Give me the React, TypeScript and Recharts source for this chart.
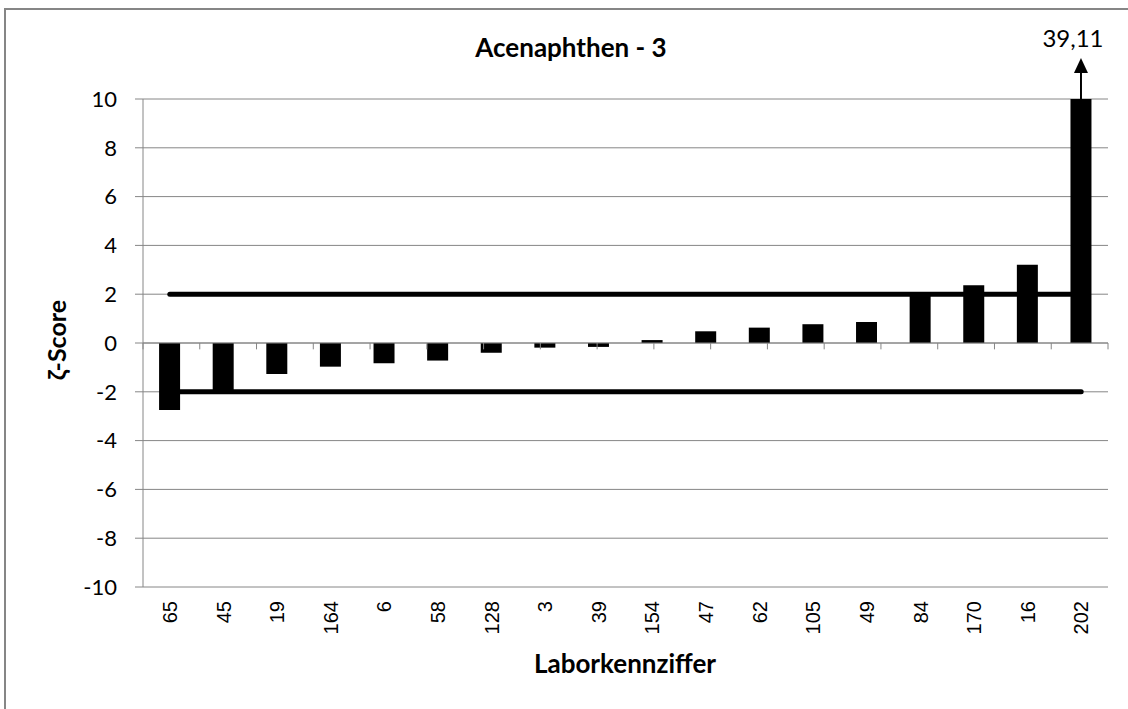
import {
  BarChart,
  Bar,
  Line,
  XAxis,
  YAxis,
  CartesianGrid,
  ReferenceLine,
  LabelList,
} from "recharts";

// Laborkennziffern in Reihenfolge der Darstellung
const LABS = ["65", "45", "19", "164", "6", "58", "128", "3", "39", "154", "47", "62", "105", "49", "84", "170", "16", "202"];
// zeta-Scores je Labor
const SCORES = [-2.75, -1.95, -1.27, -0.97, -0.83, -0.72, -0.4, -0.19, -0.16, 0.12, 0.48, 0.63, 0.77, 0.86, 1.98, 2.37, 3.21, 39.11];
const Y_TICKS = [-10, -8, -6, -4, -2, 0, 2, 4, 6, 8, 10];
const UPPER_LIMIT = 2;
const LOWER_LIMIT = -2;

const Y_MIN = -10;
const Y_MAX = 10;
const GRID = "#868686";

const data = LABS.map((lab, i) => ({
  lab,
  raw: SCORES[i],
  score: Math.max(Y_MIN, Math.min(Y_MAX, SCORES[i])),
  upper: UPPER_LIMIT,
  lower: LOWER_LIMIT,
}));

// Grenzen zwischen den Kategorien (Teilstriche auf der Nulllinie)
const bounds = Array.from({ length: LABS.length + 1 }, (_, i) => i);

const XTick = (props: any) => {
  const { x, y, payload } = props;
  const ty = y + 14;
  return (
    <text
      x={x}
      y={ty}
      transform={`rotate(-90, ${x}, ${ty})`}
      textAnchor="end"
      dy="0.36em"
      fontSize={20}
      fontFamily="'Liberation Sans', Arial, sans-serif"
      fill="#000"
    >
      {payload.value}
    </text>
  );
};

// Pfeil + Wert für Balken, die über die Achse hinausgehen
const OverflowMark = (props: any) => {
  const { x, y, width, value } = props;
  if (value == null || value <= Y_MAX) return null;
  const cx = Number(x) + Number(width) / 2;
  const top = Number(y);
  return (
    <g>
      <line x1={cx} y1={top} x2={cx} y2={top - 27} stroke="#000" strokeWidth={2} />
      <polygon points={`${cx - 7},${top - 26} ${cx + 7},${top - 26} ${cx},${top - 41}`} fill="#000" />
      <text
        x={cx - 8}
        y={top - 52}
        textAnchor="middle"
        fontSize={24}
        fontFamily="Lato, sans-serif"
        fill="#000"
      >
        {Number(value).toFixed(2).replace(".", ",")}
      </text>
    </g>
  );
};

export default function App() {
  return (
    <>
      <div
        style={{
          position: "absolute",
          left: 4,
          top: 8,
          borderLeft: `2px solid ${GRID}`,
          borderTop: `2px solid ${GRID}`,
          width: 1124,
          height: 701,
          background: "#fff",
        }}
      >
        <BarChart
          width={1122}
          height={699}
          data={data}
          margin={{ top: 89, right: 20, bottom: 0, left: 57 }}
          barCategoryGap="30%"
        >
          <CartesianGrid horizontal vertical={false} stroke={GRID} />
          <XAxis
            xAxisId="cat"
            dataKey="lab"
            height={122}
            interval={0}
            axisLine={false}
            tickLine={false}
            tickSize={0}
            tickMargin={0}
            tick={<XTick />}
          />
          <XAxis
            xAxisId="bounds"
            type="number"
            domain={[0, LABS.length]}
            height={0}
            hide
            allowDataOverflow
          />
          <YAxis
            domain={[Y_MIN, Y_MAX]}
            ticks={Y_TICKS}
            interval={0}
            allowDataOverflow
            width={80}
            tickSize={8}
            tickMargin={18}
            axisLine={{ stroke: GRID }}
            tickLine={{ stroke: GRID }}
            tick={{ fill: "#000", fontSize: 22, fontFamily: "Lato, sans-serif" }}
          />
          <ReferenceLine xAxisId="cat" y={0} stroke={GRID} />
          {bounds.map((b) => (
            <ReferenceLine
              key={`b-${b}`}
              xAxisId="bounds"
              segment={[
                { x: b, y: 0 },
                { x: b, y: -0.26 },
              ]}
              stroke={GRID}
            />
          ))}
          <Bar xAxisId="cat" dataKey="score" fill="#000" isAnimationActive={false}>
            <LabelList dataKey="raw" content={<OverflowMark />} />
          </Bar>
          <Line
            xAxisId="cat"
            dataKey="upper"
            stroke="#000"
            strokeWidth={5}
            strokeLinecap="round"
            dot={false}
            activeDot={false}
            isAnimationActive={false}
          />
          <Line
            xAxisId="cat"
            dataKey="lower"
            stroke="#000"
            strokeWidth={5}
            strokeLinecap="round"
            dot={false}
            activeDot={false}
            isAnimationActive={false}
          />
        </BarChart>
      </div>
      <svg
        width={1128}
        height={709}
        style={{ position: "absolute", left: 0, top: 0, pointerEvents: "none" }}
      >
        <text x={571} y={57} textAnchor="middle" fontSize={26} fontWeight="bold" fontFamily="Lato, sans-serif" fill="#000">
          Acenaphthen - 3
        </text>
        <text
          x={66}
          y={340}
          transform="rotate(-90, 66, 340)"
          textAnchor="middle"
          fontSize={25}
          fontWeight="bold"
          fontFamily="Lato, sans-serif"
          fill="#000"
        >
          ζ-Score
        </text>
        <text x={625} y={673} textAnchor="middle" fontSize={26} fontWeight="bold" fontFamily="Lato, sans-serif" fill="#000">
          Laborkennziffer
        </text>
      </svg>
    </>
  );
}
